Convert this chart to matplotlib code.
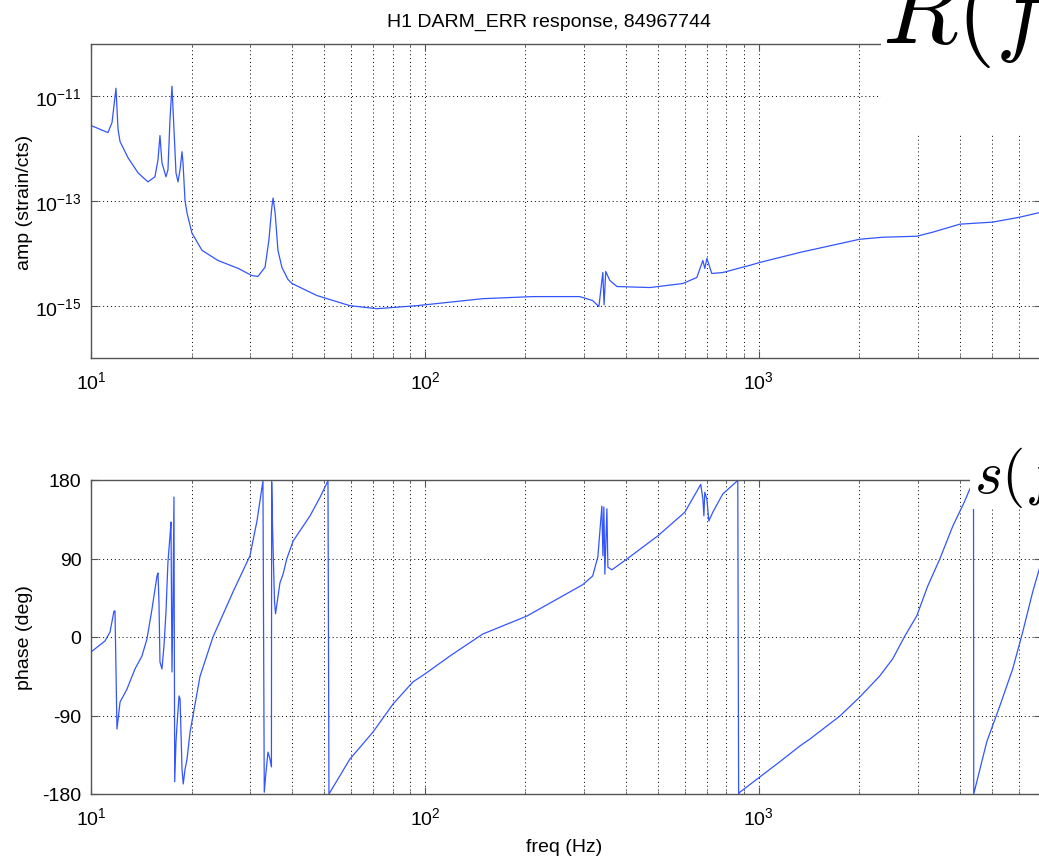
#!/usr/bin/env python3
"""H1 DARM_ERR response: amplitude and phase (Bode plot)."""
import matplotlib
matplotlib.use("Agg")
import matplotlib.pyplot as plt
from matplotlib.patches import Rectangle
from matplotlib.ticker import NullFormatter, NullLocator, LogLocator

# amplitude
amp_freq = [10.0, 11.24, 11.56, 11.88, 12.05, 12.22, 12.91, 13.83, 14.81, 15.54,
            15.87, 16.09, 16.31, 16.77, 17.0, 17.24, 17.48, 17.72, 17.97, 18.22,
            18.48, 18.73, 18.86, 19.12, 19.39, 20.06, 21.5, 24.0, 27.6, 30.3,
            31.6, 33.2, 34.1, 34.8, 35.1, 35.6, 36.3, 37.3, 38.9, 40.0,
            47.5, 59.6, 71.8, 94.6, 149, 210, 291, 318, 332, 341,
            344, 348, 358, 376, 472, 592, 652, 680, 689, 699,
            723, 780, 940, 1007, 1327, 2006, 2350, 2970, 3320, 4000,
            5020, 6040, 6840, 7000]
amp_vals = [2.77e-12, 2.03e-12, 3.16e-12, 1.43e-11, 2.32e-12, 1.36e-12, 6.7e-13, 3.45e-13, 2.32e-13, 2.9e-13,
            6.1e-13, 1.78e-12, 5.4e-13, 2.9e-13, 3.95e-13, 3.6e-12, 1.56e-11, 2.32e-12, 3.45e-13, 2.32e-13,
            3.95e-13, 8.75e-13, 5.4e-13, 1.04e-13, 5.9e-14, 2.43e-14, 1.14e-14, 7.3e-15, 5.15e-15, 3.77e-15,
            3.61e-15, 5.4e-15, 1.78e-14, 7.7e-14, 1.14e-13, 5.9e-14, 1.14e-14, 5.4e-15, 3.16e-15, 2.65e-15,
            1.56e-15, 1.0e-15, 8.75e-16, 1.0e-15, 1.36e-15, 1.49e-15, 1.49e-15, 1.25e-15, 9.6e-16, 4.3e-15,
            1.04e-15, 4.5e-15, 3.03e-15, 2.32e-15, 2.22e-15, 2.65e-15, 3.45e-15, 7.3e-15, 5.15e-15, 8.0e-15,
            4.12e-15, 4.3e-15, 5.9e-15, 6.7e-15, 1.04e-14, 1.86e-14, 2.03e-14, 2.12e-14, 2.54e-14, 3.61e-14,
            3.95e-14, 4.9e-14, 5.9e-14, 6.1e-14]

# phase (deg), wraps kept as consecutive +/-180 samples
ph_freq = [10.0, 11.01, 11.40, 11.72, 11.80, 11.88, 11.96, 12.22, 12.82, 13.54,
           14.21, 14.71, 15.23, 15.76, 15.87, 15.98, 16.09, 16.31, 16.54, 16.77,
           17.0, 17.24, 17.36, 17.48, 17.60, 17.72, 17.81, 17.97, 18.09, 18.35,
           18.48, 18.73, 18.89, 19.12, 19.39, 19.80, 21.21, 23.19, 26.62, 29.92,
           31.41, 32.73, 33.03, 33.35, 33.88, 34.36, 34.70, 34.76, 34.95, 35.14,
           35.45, 35.70, 35.97, 36.8, 37.6, 38.6, 40.3, 45.3, 48.5, 51.25,
           51.60, 59.6, 69.89, 80.23, 92.0, 100, 118.8, 149, 202, 297,
           318, 329.6, 338.8, 341.2, 343.5, 345.9, 350.8, 353.2, 363, 402.6,
           498.6, 600, 652, 670, 680, 684.7, 689, 699, 708.5, 728,
           780, 865, 870, 877, 1156, 1327, 1422, 1749, 2006, 2302,
           2518, 2736, 2970, 3206, 3483, 3809, 4140, 4255, 4395, 4402,
           4817, 5270, 5758, 6170, 6610, 6890, 7000]
ph_deg = [-17.2, -4.6, 5.7, 29.8, 29.8, -36.7, -105.5, -74.5, -59.6, -36.7,
          -21.8, -2.3, 32.1, 69.9, 73.4, 40.1, -28.7, -36.7, -10.4, 28.7,
          86, 115.8, 131.8, -40.1, 40.1, 160.5, -166, -120, -102, -67.6,
          -71, -151, -168.5, -152, -140, -109, -45, 0, 51.6, 93,
          133, 179, -178, -159, -132, -140, -149, 178, 130, 95,
          40, 26.6, 35.5, 62, 72, 90, 110, 139, 160, 179,
          -180, -140, -109, -77, -51.6, -42.4, -21.8, 3.4, 24, 60,
          70, 92, 150, 93, 149, 72, 147, 80, 77, 89.4,
          116, 143, 167, 175, 158, 139, 166, 158, 133, 143,
          164, 179.5, -179.5, -178, -143, -125, -117, -90.6, -68.8, -44.7,
          -25, 1, 24, 58.5, 89.4, 127, 156, 167, 179, -180,
          -120, -79, -36.7, 5.7, 51.6, 75.7, 84]

W, H = 1039, 862
LINE = "#3355ff"
SPINE = "#555555"
FS = 14


def style_axes(ax):
    ax.set_xscale("log")
    ax.set_xlim(10, 7000)
    ax.xaxis.set_minor_locator(LogLocator(base=10, subs=range(2, 10), numticks=20))
    ax.xaxis.set_minor_formatter(NullFormatter())
    ax.grid(True, which="major", color="k", linestyle=(0, (1, 3)), linewidth=0.7)
    ax.grid(True, which="minor", axis="x", color="k", linestyle=(0, (1, 3)), linewidth=0.7)
    ax.tick_params(which="both", direction="in", top=True, right=True,
                   color=SPINE, labelsize=FS)
    ax.tick_params(which="major", length=5, pad=7)
    ax.tick_params(axis="x", which="major", pad=9)
    ax.tick_params(which="minor", length=2.5)
    for s in ax.spines.values():
        s.set_color(SPINE)
        s.set_linewidth(1.0)


def main():
    plt.rcParams["font.family"] = ["Liberation Sans", "DejaVu Sans"]
    plt.rcParams["axes.unicode_minus"] = False

    fig = plt.figure(figsize=(W / 100, H / 100), dpi=100)
    ax1 = fig.add_axes([91 / W, (H - 359) / H, 950 / W, 314 / H])
    ax2 = fig.add_axes([91 / W, (H - 795) / H, 950 / W, 314 / H])

    ax1.plot(amp_freq, amp_vals, color=LINE, linewidth=0.9)
    ax1.set_yscale("log")
    ax1.set_ylim(1e-16, 1e-10)
    ax1.set_yticks([1e-15, 1e-13, 1e-11])
    ax1.yaxis.set_minor_locator(NullLocator())
    style_axes(ax1)
    ax1.set_ylabel("amp (strain/cts)", fontsize=FS)
    ax1.yaxis.set_label_coords(-0.061, 0.5)

    ax2.plot(ph_freq, ph_deg, color=LINE, linewidth=0.9)
    ax2.set_ylim(-180, 180)
    ax2.set_yticks([-180, -90, 0, 90, 180])
    style_axes(ax2)
    ax2.set_ylabel("phase (deg)", fontsize=FS)
    ax2.yaxis.set_label_coords(-0.061, 0.5)
    ax2.set_xlabel("freq (Hz)", fontsize=FS)
    ax2.xaxis.set_label_coords(0.498, -0.14)

    fig.text(549 / W, (H - 22) / H, "H1 DARM_ERR response, 84967744",
             ha="center", va="center", fontsize=14)

    # pasted equation snippets covering the top-right corners
    fig.add_artist(Rectangle((881 / W, (H - 136) / H), 1 - 881 / W, 136 / H,
                             transform=fig.transFigure, facecolor="white",
                             edgecolor="none", zorder=10))
    fig.add_artist(Rectangle((970 / W, (H - 510) / H), 1 - 970 / W, 70 / H,
                             transform=fig.transFigure, facecolor="white",
                             edgecolor="none", zorder=10))
    fig.text(882 / W, (H - 43) / H, r"$R(f$", fontsize=71, math_fontfamily="cm",
             ha="left", va="baseline", zorder=11)
    fig.text(974 / W, (H - 493) / H, r"$s(f$", fontsize=43, math_fontfamily="cm",
             ha="left", va="baseline", zorder=11)

    fig.savefig("out.png", dpi=100)


if __name__ == "__main__":
    main()
